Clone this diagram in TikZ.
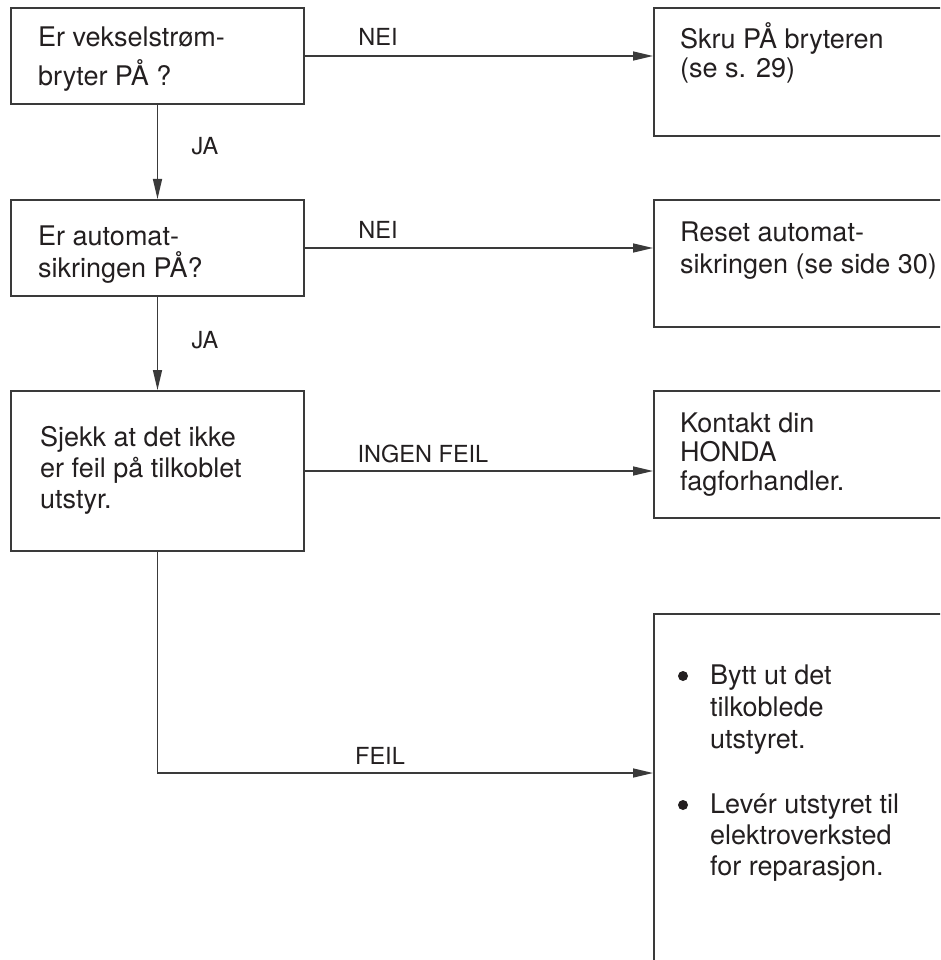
\documentclass[tikz,border=0pt]{standalone}
\usepackage{fontspec}
\setmainfont{TeX Gyre Heros}
\usetikzlibrary{arrows.meta}
\definecolor{ink}{HTML}{231F20}
\definecolor{edge}{HTML}{3A3A3A}
\begin{document}
\begin{tikzpicture}[x=1pt,y=-1pt,
  box/.style={draw=edge, line width=2pt, rectangle, anchor=north west, inner sep=0pt},
  txt/.style={anchor=base west, inner sep=0pt, align=left, text=ink},
  lbl/.style={anchor=base, inner sep=0pt, text=ink, font=\fontsize{23.5}{26}\selectfont},
  dot/.style={circle, fill=ink, minimum size=10pt, inner sep=0pt},
  conn/.style={draw=edge, line width=1.5pt, -{Triangle[length=20pt,width=9pt]}}
]
\clip (0,0) rectangle (940,960);
\fill[white] (0,0) rectangle (940,960);

% boxes
\node[box, minimum width=293pt, minimum height=96pt]  (b1) at (10,7) {};
\node[box, minimum width=320pt, minimum height=128pt] (b2) at (653,7) {};
\node[box, minimum width=293pt, minimum height=96pt]  (b3) at (10,199) {};
\node[box, minimum width=320pt, minimum height=127pt] (b4) at (653,199) {};
\node[box, minimum width=293pt, minimum height=160pt] (b5) at (10,390) {};
\node[box, minimum width=320pt, minimum height=127pt] (b6) at (653,390) {};
\node[box, minimum width=320pt, minimum height=400pt] (b7) at (653,613) {};

% texts (anchor = baseline of the last line)
\node[txt, font=\fontsize{27}{39}\selectfont] (t1) at (38,86) {Er vekselstrøm-\\bryter PÅ ?};
\node[txt, font=\fontsize{27}{29}\selectfont] (t2) at (680,78) {Skru PÅ bryteren\\(se s. 29)};
\node[txt, font=\fontsize{27}{32}\selectfont] (t3) at (38,277) {Er automat-\\sikringen PÅ?};
\node[txt, font=\fontsize{27}{32}\selectfont] (t4) at (680,273) {Reset automat-\\sikringen (se side 30)};
\node[txt, font=\fontsize{27}{31}\selectfont] (t5) at (40,508) {Sjekk at det ikke\\er feil på tilkoblet\\utstyr.};
\node[txt, font=\fontsize{27}{29}\selectfont] (t6) at (680,490) {Kontakt din\\HONDA\\fagforhandler.};
\node[dot] (d1) at (683,676) {};
\node[txt, font=\fontsize{27}{32}\selectfont] (t7) at (710,748) {Bytt ut det\\tilkoblede\\utstyret.};
\node[dot] (d2) at (683,805) {};
\node[txt, font=\fontsize{27}{31}\selectfont] (t8) at (710,875) {Levér utstyret til\\elektroverksted\\for reparasjon.};

% connectors
\coordinate (fy) at (0,773);
\draw[conn] (b1.east) -- (b2.west |- b1.east);
\draw[conn] (b1.south) -- (b3.north);
\draw[conn] (b3.east) -- (b4.west |- b3.east);
\draw[conn] (b3.south) -- (b5.north);
\draw[conn] (b5.east) -- (b6.west |- b5.east);
\draw[conn] (b5.south) |- (b7.west |- fy);

% labels
\node[lbl] (l1) at (378,46) {NEI};
\node[lbl] (l2) at (205,155) {JA};
\node[lbl] (l3) at (378,238) {NEI};
\node[lbl] (l4) at (205,348) {JA};
\node[lbl] (l5) at (423,462) {INGEN FEIL};
\node[lbl] (l6) at (380,764) {FEIL};
\end{tikzpicture}
\end{document}
